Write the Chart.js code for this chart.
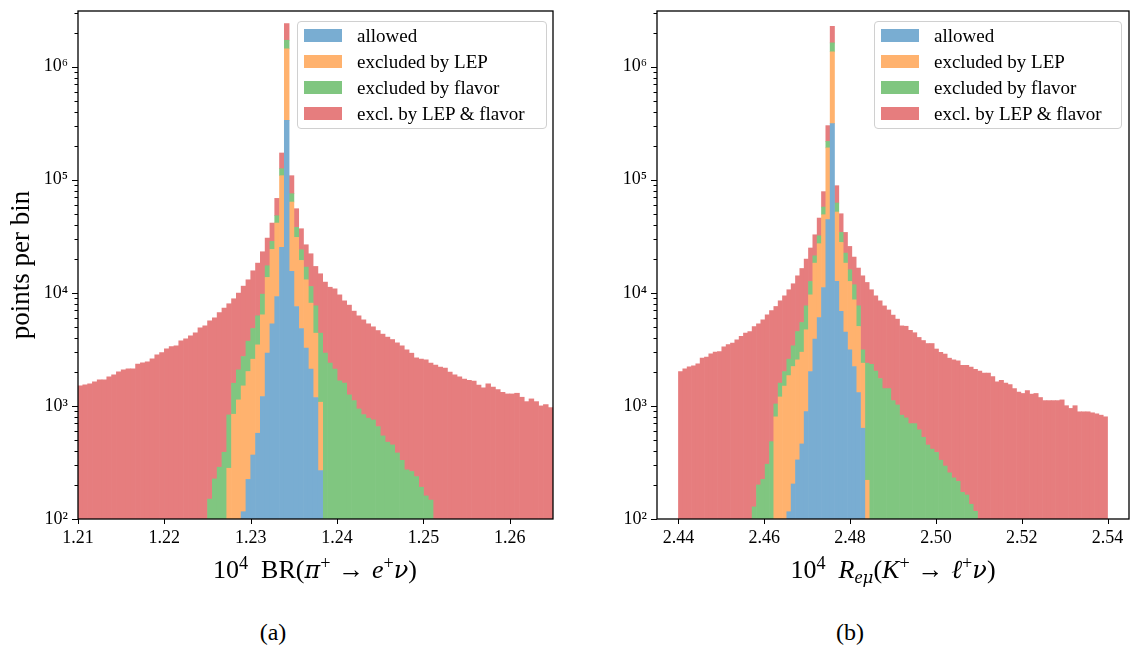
<!DOCTYPE html>
<html lang="en">
<head>
<meta charset="utf-8">
<title>points per bin</title>
<script src="https://cdn.jsdelivr.net/npm/chart.js@4.4.1/dist/chart.umd.min.js"></script>
<style>
  body { margin: 0; width: 1130px; height: 648px; overflow: hidden; background: #fff;
         font-family: "Liberation Serif", "DejaVu Serif", serif; color: #000; }
  canvas { position: absolute; top: 0; }
  #chartA { left: 0; }
  #chartB { left: 570px; }
  .legend { position: absolute; top: 21px; height: 108px; border: 1px solid #d0d0d0; border-radius: 4px;
            background: rgba(255,255,255,0.8); box-sizing: border-box; padding-top: 1px; }
  .legend div { position: relative; height: 26px; line-height: 26px; font-size: 19px; padding-left: 59px; white-space: nowrap; }
  .legend span { position: absolute; left: 6px; top: 6px; width: 38px; height: 13px; }
  .xlabel { position: absolute; top: 555px; font-size: 26px; white-space: nowrap; transform: translateX(-50%); }
  .xlabel sup, .xlabel sub { font-size: 0.7em; vertical-align: 0; position: relative; line-height: 0; }
  .xlabel sup { top: -0.5em; }
  .xlabel sub { top: 0.3em; }
  .xlabel .gr { font-family: "DejaVu Serif", serif; font-style: italic; font-size: 0.92em; }
  .xlabel .rel { margin: 0 0.3em; }
  .xlabel .gap { margin-left: 0.25em; }
  .caption { position: absolute; top: 619px; font-size: 24px; transform: translateX(-50%); }
</style>
</head>
<body>
<canvas id="chartA" width="565" height="560"></canvas>
<canvas id="chartB" width="561" height="560"></canvas>
<div class="legend" id="legendA" style="left:297px;width:250px"></div>
<div class="legend" id="legendB" style="left:874px;width:248px"></div>
<div class="xlabel" style="left:315px">10<sup>4</sup><span class="gap"></span> BR(<span class="gr">π</span><sup>+</sup><span class="rel">→</span><i>e</i><sup>+</sup><span class="gr">ν</span>)</div>
<div class="xlabel" style="left:893px">10<sup>4</sup><span class="gap"></span> <i>R</i><sub><i>e</i><span class="gr">μ</span></sub>(<i>K</i><sup>+</sup><span class="rel">→</span><i>ℓ</i><sup>+</sup><span class="gr">ν</span>)</div>
<div class="caption" style="left:273px">(a)</div>
<div class="caption" style="left:850px">(b)</div>
<script>
// les quatre catégories, empilées de bas en haut
var seriesLabels = ['allowed', 'excluded by LEP', 'excluded by flavor', 'excl. by LEP & flavor'];
var seriesColors = ['rgb(121,173,210)', 'rgb(255,178,110)', 'rgb(128,198,128)', 'rgb(230,125,126)'];

// axe y commun
var yRange = [100, 3.1e6];
var yMajor = [1e2, 1e3, 1e4, 1e5, 1e6];
var yLabels = ['10²', '10³', '10⁴', '10⁵', '10⁶'];

// (a) BR(pi -> e nu) : 99 bins entre 1.21 et 1.265
var binRangeA = [1.21, 1.265];
var nBinsA = 99;
var xLimA = [1.21, 1.265];
var xTicksA = [1.21, 1.22, 1.23, 1.24, 1.25, 1.26];
var allowedFromA = 34;
var allowedA = [116, 224, 368, 573, 1209, 2925, 5318, 9280, 25190, 334800, 15440, 7570, 4834, 3238, 2111, 1185, 268];
var lepFromA = 31;
var lepA = [281, 844, 1130, 1387, 1789, 2220, 2892, 5177, 10745, 18862, 32070, 83310, 1100200, 47990, 23300,
            14496, 9792, 5990, 3212, 810];
var flavorFromA = 27;
var flavorA = [150, 226, 287, 389, 551, 743, 953, 1230, 1722, 2246, 2793, 3344, 3670, 4290, 6670, 16600, 275000,
               11760, 6990, 4690, 3840, 3269, 3277, 3319, 2925, 2387, 2112, 1664, 1588, 1251, 1114, 940, 837, 778,
               751, 656, 543, 478, 452, 384, 330, 272, 263, 237, 191, 160, 147];
var bothA = [1503, 1534, 1566, 1631, 1699, 1699, 1806, 1881, 2000, 2083, 2126, 2126, 2339, 2402, 2452, 2606, 2827,
             2965, 3195, 3350, 3398, 3760, 3917, 4164, 4427, 4900, 5105,
             5500, 5782, 6409, 6935, 7168, 7268, 7857, 8717, 9295, 10816, 12042, 13330, 13120, 12880,
             20310, 47100, 690000, 33310, 17520, 12830, 9720, 10770, 9426, 10333,
             9505, 8813, 8728, 7926, 6902, 6529, 5771, 5317, 4929, 4540,
             4252, 3981, 3768, 3578, 3410, 3226, 3067, 2859, 2662, 2422, 2399, 2393, 2240,
             2291, 2199, 2156, 1987, 1880, 1806, 1722, 1687, 1654, 1525, 1443, 1566, 1463, 1393, 1321, 1276, 1276,
             1294, 1193, 1091, 1153, 1091, 1000, 1027, 966];

// (b) R_emu(K -> l nu) : 99 bins entre 2.44 et 2.54
var binRangeB = [2.44, 2.54];
var nBinsB = 99;
var xLimB = [2.435, 2.545];
var xTicksB = [2.44, 2.46, 2.48, 2.50, 2.52, 2.54];
var allowedFromB = 25;
var allowedB = [116, 204, 333, 461, 891, 2013, 3890, 6040, 11140, 44300, 313000, 12600, 6840, 4490, 3131, 2228,
                1312, 635];
var lepFromB = 22;
var lepB = [800, 1200, 1500, 1734, 2024, 2220, 2525, 3819, 7577, 14410, 21130, 37860, 146700, 1037000, 39200,
            21030, 13810, 9459, 6442, 3728, 1753, 220];
var flavorFromB = 17;
var flavorB = [128, 200, 224, 305, 483, 240, 390, 510, 740, 1169, 1993, 2474, 2960, 3000, 2930, 4730, 8300, 27000,
               270000, 10400, 6310, 4140, 3400, 3110, 2630, 743, 2168, 2333, 2031, 1746, 1419, 1419, 1114, 1019,
               828, 783, 697, 697, 615, 528, 451, 415, 388, 331, 294, 256, 231, 215, 172, 163, 135, 117];
var bothB = [2013, 2126, 2213, 2259, 2354, 2642, 2697, 2884, 2985, 3026, 3327, 3491, 3590, 3839, 4111, 4397, 4546,
             4908, 5118, 5542, 6081, 6492, 6530, 6904, 7390, 8050, 8623,
             9584, 10940, 12190, 12300, 11350, 13900, 21100, 82600, 650000, 26300,
             15820, 11740, 9710, 8920, 8880, 11000, 9952, 8307, 7369, 6744,
             6241, 5631, 5236, 4831, 4272, 4277, 3958, 3738, 3415, 3257,
             3109, 3145, 2796, 2643, 2579, 2386, 2322, 2286, 2114, 2123,
             2073, 1985, 2031, 1951, 1951, 1820, 1631, 1687, 1594, 1543,
             1419, 1324, 1288, 1364, 1271, 1288, 1186, 1114, 1114, 1114,
             1114, 1130, 1004, 950, 1004, 887, 887, 887, 869, 851, 828, 801];

Chart.defaults.font.family = '"Liberation Serif", "DejaVu Serif", serif';
Chart.defaults.color = '#000';

// place les comptes d'une série dans les bins (null = bin vide)
function placeCounts(from, counts, n) {
    var out = [];
    for (var i = 0; i < n; i++) {
        var k = i - from;
        out.push(k >= 0 && k < counts.length ? counts[k] : null);
    }
    return out;
}

// cadre + graduations façon matplotlib
var frame = {
    id: 'frame',
    afterDatasetsDraw: function (chart) {
        var ctx = chart.ctx, a = chart.chartArea;
        var xs = chart.scales.x, ys = chart.scales.y;
        ctx.save();
        ctx.strokeStyle = '#000';
        ctx.lineWidth = 1;
        xs.ticks.forEach(function (t) {
            var px = Math.round(xs.getPixelForValue(t.value)) + 0.5;
            ctx.beginPath(); ctx.moveTo(px, a.bottom); ctx.lineTo(px, a.bottom + 5); ctx.stroke();
        });
        ys.ticks.forEach(function (t) {
            var py = ys.getPixelForValue(t.value);
            if (py < a.top + 1) return;
            var len = yMajor.indexOf(t.value) >= 0 ? 6 : 3.5;
            py = Math.round(py) + 0.5;
            ctx.beginPath(); ctx.moveTo(a.left - len, py); ctx.lineTo(a.left, py); ctx.stroke();
        });
        ctx.lineWidth = 1.3;
        ctx.strokeRect(a.left, a.top, a.right - a.left, a.bottom - a.top);
        ctx.restore();
    }
};

function makeChart(id, binRange, nBins, xLim, xTicks, series, yWidth, padRight, showTitle) {
    var w = (binRange[1] - binRange[0]) / nBins;
    var datasets = series.map(function (vals, s) {
        return {
            label: seriesLabels[s],
            backgroundColor: seriesColors[s],
            borderWidth: 0,
            barPercentage: 1,
            categoryPercentage: 1,
            data: vals.map(function (v, i) { return { x: binRange[0] + (i + 0.5) * w, y: v }; })
        };
    });
    return new Chart(document.getElementById(id), {
        type: 'bar',
        data: { datasets: datasets },
        options: {
            responsive: false,
            animation: false,
            layout: { padding: { top: 11, right: padRight, bottom: 0, left: 0 } },
            plugins: { legend: { display: false }, tooltip: { enabled: false } },
            scales: {
                x: {
                    type: 'linear',
                    stacked: true,
                    offset: false,
                    min: xLim[0],
                    max: xLim[1],
                    grid: { display: false, drawTicks: false },
                    border: { display: false },
                    afterBuildTicks: function (scale) {
                        scale.ticks = xTicks.map(function (v) { return { value: v }; });
                    },
                    ticks: {
                        autoSkip: false,
                        maxRotation: 0,
                        padding: 8,
                        font: { size: 18 },
                        callback: function (v) { return v.toFixed(2); }
                    },
                    afterFit: function (scale) {
                        scale.height = 41;
                        scale.paddingLeft = 0;
                        scale.paddingRight = 0;
                    }
                },
                y: {
                    type: 'logarithmic',
                    stacked: true,
                    min: yRange[0],
                    max: yRange[1],
                    grid: { display: false, drawTicks: false },
                    border: { display: false },
                    afterBuildTicks: function (scale) {
                        var t = [];
                        yMajor.forEach(function (m) {
                            for (var k = 1; k <= 9; k++) {
                                if (m * k < yRange[1]) t.push({ value: m * k, major: k === 1 });
                            }
                        });
                        scale.ticks = t;
                    },
                    ticks: {
                        autoSkip: false,
                        padding: 10,
                        font: { size: 18 },
                        callback: function (v) {
                            var i = yMajor.indexOf(v);
                            return i >= 0 ? yLabels[i] : '';
                        }
                    },
                    title: {
                        display: showTitle,
                        text: 'points per bin',
                        font: { size: 27 },
                        padding: { top: 6, bottom: 0 }
                    },
                    afterFit: function (scale) {
                        scale.width = yWidth;
                        scale.paddingTop = 0;
                        scale.paddingBottom = 0;
                    }
                }
            }
        },
        plugins: [frame]
    });
}

function buildLegend(id) {
    var box = document.getElementById(id);
    for (var s = 0; s < seriesLabels.length; s++) {
        var row = document.createElement('div');
        var patch = document.createElement('span');
        patch.style.background = seriesColors[s];
        row.appendChild(patch);
        row.appendChild(document.createTextNode(seriesLabels[s]));
        box.appendChild(row);
    }
}

var seriesA = [
    placeCounts(allowedFromA, allowedA, nBinsA),
    placeCounts(lepFromA, lepA, nBinsA),
    placeCounts(flavorFromA, flavorA, nBinsA),
    bothA
];
var seriesB = [
    placeCounts(allowedFromB, allowedB, nBinsB),
    placeCounts(lepFromB, lepB, nBinsB),
    placeCounts(flavorFromB, flavorB, nBinsB),
    bothB
];

makeChart('chartA', binRangeA, nBinsA, xLimA, xTicksA, seriesA, 78, 12, true);
makeChart('chartB', binRangeB, nBinsB, xLimB, xTicksB, seriesB, 87, 2, false);
buildLegend('legendA');
buildLegend('legendB');
</script>
</body>
</html>
